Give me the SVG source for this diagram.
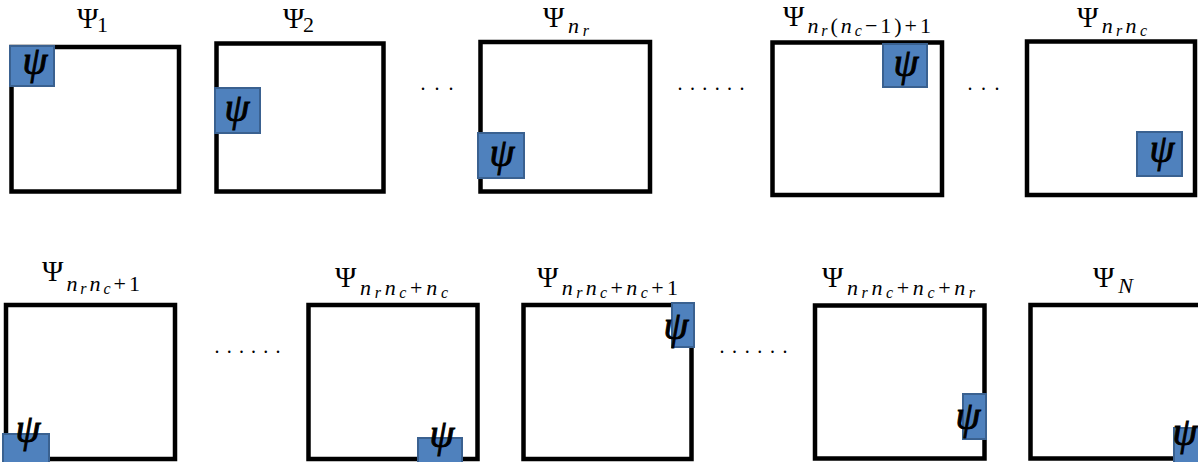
<svg xmlns="http://www.w3.org/2000/svg" width="1198" height="462" viewBox="0 0 1198 462">
<style>
.box{fill:#fff;stroke:#000;stroke-width:4.5}
.blk{fill:#4f81bd;stroke:#3a6190;stroke-width:2}
.psi{font-family:"Liberation Serif","DejaVu Serif",serif;font-style:italic;font-size:40px;fill:#000;stroke:#000;stroke-width:0.9;text-anchor:middle}
.lab{font-family:"Liberation Serif","DejaVu Serif",serif;font-size:29px;fill:#000}
.s{font-size:22px}
.i{font-style:italic}
.ss{font-size:16px;font-style:italic}
.dots{font-family:"Liberation Serif",serif;font-size:20px;fill:#000;text-anchor:middle}
</style>
<rect width="1198" height="462" fill="#fff"/>

<g id="node1">
<rect class="box" x="11.5" y="47" width="167.5" height="144.5"/>
<rect class="blk" x="10" y="46" width="44" height="40"/>
<text class="psi" x="35" y="74">ψ</text>
<text class="lab" x="77" y="28" textLength="31">Ψ<tspan class="s" dy="4">1</tspan></text>
</g>

<g id="node2">
<rect class="box" x="216.5" y="43.5" width="167" height="148"/>
<rect class="blk" x="215" y="88" width="45" height="45"/>
<text class="psi" x="237" y="121">ψ</text>
<text class="lab" x="283" y="28" textLength="31">Ψ<tspan class="s" dy="4">2</tspan></text>
</g>

<g id="node3">
<rect class="box" x="480.5" y="42" width="169.5" height="149.5"/>
<rect class="blk" x="478" y="133" width="46" height="45"/>
<text class="psi" x="502" y="166">ψ</text>
<text class="lab" x="543" y="27" textLength="46">Ψ<tspan class="s i" dy="6">n</tspan><tspan class="ss" dy="3">r</tspan></text>
</g>

<g id="node4">
<rect class="box" x="772.5" y="42.5" width="169.5" height="152.5"/>
<rect class="blk" x="883" y="44" width="44" height="43"/>
<text class="psi" x="906" y="76">ψ</text>
<text class="lab" x="783" y="26" textLength="148">Ψ<tspan class="s i" dy="7">n</tspan><tspan class="ss" dy="3">r</tspan><tspan class="s" dy="-3">(</tspan><tspan class="s i">n</tspan><tspan class="ss" dy="3">c</tspan><tspan class="s" dy="-3">−1)+1</tspan></text>
</g>

<g id="node5">
<rect class="box" x="1027" y="41.5" width="168" height="153.5"/>
<rect class="blk" x="1137" y="132" width="45" height="44"/>
<text class="psi" x="1162" y="162">ψ</text>
<text class="lab" x="1077" y="27" textLength="70">Ψ<tspan class="s i" dy="6">n</tspan><tspan class="ss" dy="3">r</tspan><tspan class="s i" dy="-3">n</tspan><tspan class="ss" dy="3">c</tspan></text>
</g>

<g id="node6">
<rect class="box" x="6" y="305" width="169" height="154"/>
<rect class="blk" x="3" y="434" width="46" height="30"/>
<text class="psi" x="28" y="442">ψ</text>
<text class="lab" x="42" y="281" textLength="98">Ψ<tspan class="s i" dy="10">n</tspan><tspan class="ss" dy="3">r</tspan><tspan class="s i" dy="-3">n</tspan><tspan class="ss" dy="3">c</tspan><tspan class="s" dy="-3">+1</tspan></text>
</g>

<g id="node7">
<rect class="box" x="308.5" y="305" width="169" height="154"/>
<rect class="blk" x="418" y="438" width="44" height="26"/>
<text class="psi" x="442" y="447">ψ</text>
<text class="lab" x="335" y="287" textLength="113">Ψ<tspan class="s i" dy="8">n</tspan><tspan class="ss" dy="3">r</tspan><tspan class="s i" dy="-3">n</tspan><tspan class="ss" dy="3">c</tspan><tspan class="s" dy="-3">+</tspan><tspan class="s i">n</tspan><tspan class="ss" dy="3">c</tspan></text>
</g>

<g id="node8">
<rect class="box" x="523.5" y="305" width="168" height="154"/>
<rect class="blk" x="672" y="303" width="22" height="44"/>
<text class="psi" x="676" y="339">ψ</text>
<text class="lab" x="537" y="287" textLength="141">Ψ<tspan class="s i" dy="8">n</tspan><tspan class="ss" dy="3">r</tspan><tspan class="s i" dy="-3">n</tspan><tspan class="ss" dy="3">c</tspan><tspan class="s" dy="-3">+</tspan><tspan class="s i">n</tspan><tspan class="ss" dy="3">c</tspan><tspan class="s" dy="-3">+1</tspan></text>
</g>

<g id="node9">
<rect class="box" x="815" y="305.5" width="169.5" height="153"/>
<rect class="blk" x="963" y="394" width="23" height="45"/>
<text class="psi" x="968" y="429">ψ</text>
<text class="lab" x="822" y="287" textLength="153">Ψ<tspan class="s i" dy="8">n</tspan><tspan class="ss" dy="3">r</tspan><tspan class="s i" dy="-3">n</tspan><tspan class="ss" dy="3">c</tspan><tspan class="s" dy="-3">+</tspan><tspan class="s i">n</tspan><tspan class="ss" dy="3">c</tspan><tspan class="s" dy="-3">+</tspan><tspan class="s i">n</tspan><tspan class="ss" dy="3">r</tspan></text>
</g>

<g id="node10">
<rect class="box" x="1030.5" y="305" width="170" height="153.5"/>
<rect class="blk" x="1174" y="428" width="26" height="36"/>
<text class="psi" x="1185" y="445">ψ</text>
<text class="lab" x="1093" y="287" textLength="40">Ψ<tspan class="s i" dy="6">N</tspan></text>
</g>

<g id="connectors">
<text class="dots" x="423 437 451" y="90">...</text>
<text class="dots" x="680 692.4 704.8 717.2 729.6 742" y="90">......</text>
<text class="dots" x="970 983.5 997" y="90">...</text>
<text class="dots" x="217 229.2 241.4 253.6 265.8 278" y="353">......</text>
<text class="dots" x="722 734.6 747.2 759.8 772.4 785" y="353">......</text>
</g>
</svg>
